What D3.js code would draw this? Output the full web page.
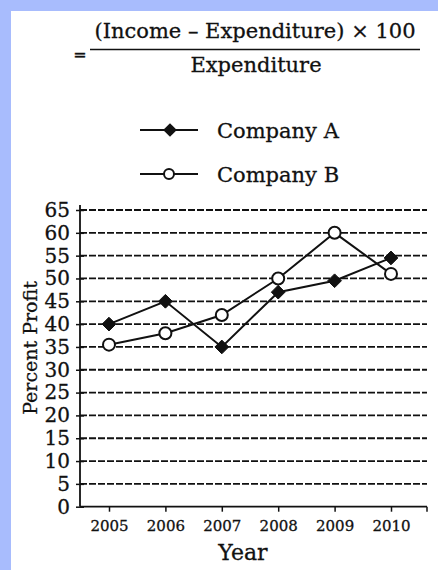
<!DOCTYPE html>
<html>
<head>
<meta charset="utf-8">
<script src="https://cdn.jsdelivr.net/npm/d3@7"></script>
<style>
  body { margin: 0; background: #fff; }
  text { font-family: "DejaVu Serif", "Liberation Serif", serif; fill: #111; stroke: #111; stroke-width: 0.3px; }
</style>
</head>
<body>
<div id="chart"></div>
<script>
const years = ["2005", "2006", "2007", "2008", "2009", "2010"];
const companyA = [40, 45, 35, 47, 49.5, 54.5];
const companyB = [35.5, 38, 42, 50, 60, 51];
const yTicks = [0, 5, 10, 15, 20, 25, 30, 35, 40, 45, 50, 55, 60, 65];

const width = 438, height = 570;
const svg = d3.select("#chart").append("svg")
  .attr("width", width).attr("height", height);

// page frame: blue strip on top and left
svg.append("rect").attr("width", width).attr("height", height).attr("fill", "#a8bcfd");
svg.append("rect").attr("x", 11).attr("y", 11)
  .attr("width", width - 11).attr("height", height - 11).attr("fill", "#fff");

// formula header
svg.append("text").attr("x", 80).attr("y", 60).attr("text-anchor", "middle")
  .style("font-size", "16px").text("=");
svg.append("text").attr("x", 255).attr("y", 38).attr("text-anchor", "middle")
  .style("font-size", "21px").text("(Income \u2013 Expenditure) \u00d7 100");
svg.append("line").attr("x1", 90).attr("x2", 420).attr("y1", 49.5).attr("y2", 49.5)
  .attr("stroke", "#111").attr("stroke-width", 1.5);
svg.append("text").attr("x", 256).attr("y", 72).attr("text-anchor", "middle")
  .style("font-size", "21px").text("Expenditure");

const x = d3.scalePoint().domain(years).range([109, 391]);
const y = d3.scaleLinear().domain([0, 65]).range([506.7, 210]);
const xLeft = 80, xRight = 427;

// gridlines
svg.append("g").selectAll("line").data(yTicks.filter(d => d > 0)).join("line")
  .attr("x1", xLeft).attr("x2", xRight)
  .attr("y1", d => y(d)).attr("y2", d => y(d))
  .attr("stroke", "#111").attr("stroke-width", 1.8)
  .attr("stroke-dasharray", "7,2");

// y axis
const yAxis = svg.append("g").attr("transform", `translate(${xLeft},0)`)
  .call(d3.axisLeft(y).tickValues(yTicks).tickSize(4).tickPadding(6));
yAxis.select(".domain").remove();
yAxis.append("line").attr("y1", 205).attr("y2", y(0)).attr("stroke", "#111").attr("stroke-width", 1.8);
yAxis.selectAll(".tick line").attr("x2", 4).attr("x1", -4).attr("stroke", "#111").attr("stroke-width", 1.5);
yAxis.selectAll(".tick text").style("font-size", "20px").attr("fill", "#111")
  .attr("font-family", "DejaVu Serif");

// x axis
const xAxis = svg.append("g").attr("transform", `translate(0,${y(0)})`)
  .call(d3.axisBottom(x).tickSize(5).tickPadding(9));
xAxis.select(".domain").remove();
xAxis.append("line").attr("x1", xLeft).attr("x2", xRight).attr("stroke", "#111").attr("stroke-width", 1.8);
xAxis.append("line").attr("x1", xRight).attr("x2", xRight).attr("y1", 0).attr("y2", 5)
  .attr("stroke", "#111").attr("stroke-width", 1.5);
xAxis.selectAll(".tick line").attr("stroke", "#111").attr("stroke-width", 1.5);
xAxis.selectAll(".tick text").style("font-size", "15px").attr("fill", "#111")
  .attr("font-family", "DejaVu Serif");

// axis titles
svg.append("text").attr("x", 243).attr("y", 560).attr("text-anchor", "middle")
  .style("font-size", "22px").text("Year");
svg.append("text").attr("transform", "translate(37,348) rotate(-90)")
  .attr("text-anchor", "middle").style("font-size", "19px").text("Percent Profit");

// series
const line = d3.line().x((d, i) => x(years[i])).y(d => y(d));
svg.append("path").datum(companyA).attr("d", line)
  .attr("fill", "none").attr("stroke", "#111").attr("stroke-width", 2);
svg.append("path").datum(companyB).attr("d", line)
  .attr("fill", "none").attr("stroke", "#111").attr("stroke-width", 2);

const diamond = d3.symbol().type(d3.symbolDiamond2).size(120);
svg.append("g").selectAll("path").data(companyA).join("path")
  .attr("d", diamond)
  .attr("transform", (d, i) => `translate(${x(years[i])},${y(d)})`)
  .attr("fill", "#111").attr("stroke", "#111").attr("stroke-width", 1);

svg.append("g").selectAll("circle").data(companyB).join("circle")
  .attr("cx", (d, i) => x(years[i])).attr("cy", d => y(d)).attr("r", 6)
  .attr("fill", "#fff").attr("stroke", "#111").attr("stroke-width", 2);

// legend
const legend = svg.append("g");
legend.append("line").attr("x1", 140).attr("x2", 198).attr("y1", 130).attr("y2", 130)
  .attr("stroke", "#111").attr("stroke-width", 2);
legend.append("path").attr("d", diamond).attr("transform", "translate(170,130)")
  .attr("fill", "#111");
legend.append("text").attr("x", 217).attr("y", 138).style("font-size", "21px").text("Company A");
legend.append("line").attr("x1", 140).attr("x2", 198).attr("y1", 174).attr("y2", 174)
  .attr("stroke", "#111").attr("stroke-width", 2);
legend.append("circle").attr("cx", 169).attr("cy", 174).attr("r", 5)
  .attr("fill", "#fff").attr("stroke", "#111").attr("stroke-width", 2);
legend.append("text").attr("x", 217).attr("y", 182).style("font-size", "21px").text("Company B");
</script>
</body>
</html>
